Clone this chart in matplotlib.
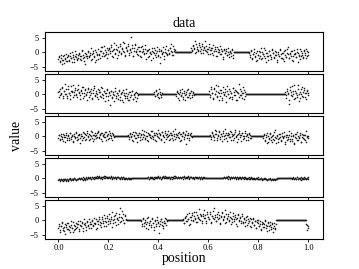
import numpy as np
import matplotlib.pyplot as plt

plt.rcParams['font.family'] = ['Liberation Serif', 'DejaVu Serif']

# two interleaved sample grids, half a step apart
position = np.round(np.arange(251) * 0.004, 3)
position_b = np.round(np.arange(250) * 0.004 + 0.002, 3)
zero = 0.0

# panel 1
p1_a = [-2.4, -1.1, -3.2, -1.8, -4.1, -2.6, -0.9, -2.2, -3.0, -1.5,
        -0.8, -2.9, -1.3, -2.0, 0.1, -1.7, -3.4, -1.2, -0.6, -2.3,
        -1.9, -0.3, -1.4, -2.8, 0.5, -1.0, -1.6, -4.0, -0.7, -1.3,
        0.2, -1.5, -0.9, 1.4, -2.2, -0.4, -1.1, 0.8, -2.6, -0.6,
        1.1, -0.7, -1.8, 0.4, 2.0, -0.2, -1.4, 0.9, -0.5, 1.6,
        -0.6, 1.3, 0.3, 2.5, -1.2, 0.7, 3.1, -0.1, 1.0, -1.9,
        1.8, 0.2, 2.7, -0.4, 1.2, 0.6, 3.3, -0.9, 1.5, 0.4,
        2.1, -0.3, 0.9, 5.4, 1.6, -1.1, 0.5, 2.4, 0.0, 1.3,
        -0.8, 1.7, 0.3, -1.5, 2.2, 0.6, -0.2, 1.0, -2.4, 0.4,
        0.9, -1.3, 0.2, -0.7, 1.6, -2.0, -0.1, 0.7, -1.6, 0.3,
        -0.9, 1.2, -3.6, 0.5, -0.4, 1.9, -1.1, 0.1, 2.3, -0.6,
        0.8, -0.5, 1.4, 2.9, 0.2, -0.8, 1.1]
p1_b = [1.5, 0.4, 2.6, 1.1, 3.8, 0.2, 1.9, 0.9, 2.4, 0.6,
        1.3, 3.0, -0.2, 1.7, 0.8, 2.2, 0.1, 1.0, 2.8, -0.5,
        0.7, 1.5, -0.8, 0.3, 1.9, 0.5, -1.4, 1.1, 0.0, 2.1,
        -0.6, 0.4, -2.3, 0.9, -0.3, 1.3, -1.0, 0.2, -1.7, 0.6,
        -0.4, 1.2, -0.9]
p1_c = [-0.3, -1.6, 0.8, -2.4, -0.7, 0.2, -1.2, -3.1, 0.5, -0.9,
        -1.8, 0.1, 1.4, -2.0, -0.5, -1.1, 0.9, -3.5, -0.2, -1.4,
        0.6, -0.8, -2.2, 1.2, -0.4, -1.7, 0.3, -1.0, -2.7, 0.0,
        -1.3, 1.0, -0.6, -2.1, -0.1, -3.0, 0.7, -1.5, -0.3, 1.7,
        -1.9, -0.7, 0.4, -2.5, -1.1, 0.9, -0.5, -1.6, 0.2, -3.3,
        -0.8, 1.1, -1.4, -0.2, -2.0, 0.5, -0.9, 1.3, -1.2, 0.1]
p1_a2 = [-1.7, -3.0, -0.8, -2.5, -1.4, -3.7, -2.1, -0.5, -2.9, -1.2,
         -2.6, -0.4, -1.9, -3.3, -1.0, -2.2, 0.4, -1.5, -2.7, -0.9,
         -0.6, -2.4, -1.1, 0.7, -1.8, -3.1, -0.2, -1.3, -2.0, 0.3,
         -1.4, -0.1, -2.8, -0.7, 0.6, -1.7, -3.4, 0.1, -1.0, -2.3,
         -0.9, 0.5, 1.7, -1.2, -0.4, 2.3, -0.8, 0.2, -2.1, 0.8,
         1.4, -0.3, 2.0, 0.5, -1.6, 1.1, -0.5, 2.6, 0.9, -0.9,
         0.3, 2.2, -0.6, 1.4, 3.6, 0.0, -1.3, 1.9, 0.7, 2.8,
         -0.8, 1.0, 0.2, 2.5, -1.4, 1.6, 3.0, 0.4, -0.5, 1.8,
         0.6, -1.1, 2.0, 0.1, 1.3, -0.7, 2.6, -0.2, 0.8, -1.6,
         1.2, -0.4, -2.5, 0.6, 0.0, 1.5, -0.9, -0.3, 2.0, -1.2,
         0.4, -1.7, 0.9, -0.6, 0.2, -2.2, 1.3, -0.1, -0.8, 0.7,
         -0.2, 1.6, 0.5, -1.0, 2.2, 0.3, 0.9]
p1_b2 = [0.8, 2.1, 1.4, -0.3, 2.9, 1.0, 0.5, 3.2, 1.7, -0.1,
         2.3, 0.7, 1.6, 4.0, 0.3, 1.2, -0.6, 2.0, 0.9, 1.4,
         -0.2, 2.4, 0.6, 1.0, -1.1, 1.7, 0.2, 0.8, -0.7, 1.3,
         0.5, -1.5, 1.0, -0.2, 0.4, -0.9, 1.6, -0.5, 0.1, -1.3,
         0.7, -2.0, 0.0]
p1_c2 = [-1.0, 0.3, -2.0, -0.6, 1.0, -1.5, -0.2, -2.8, -0.9, 0.6,
         -1.3, -2.3, 0.0, -0.7, 1.5, -1.9, -0.4, -1.1, -2.6, 0.4,
         -0.8, -1.6, 0.9, -0.3, -2.1, -1.0, 0.2, -3.2, -0.5, -1.2,
         0.8, -1.8, -0.1, -2.4, 0.5, -0.9, -1.5, 1.2, -0.6, -2.0,
         -0.2, -1.1, 0.6, -2.9, -0.7, -0.1, -1.7, 1.0, -0.4, -1.3,
         -2.2, 0.3, -0.8, -1.6, 0.7, -0.3, -1.9, 0.4, -1.0]

# panel 2
p2_a = [0.8, -0.9, 1.7, 0.2, 2.6, -0.5, 1.1, 3.4, 0.0, -1.3,
        1.9, 0.5, -0.4, 2.8, 1.2, -1.0, 0.7, 2.2, -0.2, 1.5,
        3.1, 0.3, -1.6, 1.0, 0.6, 2.4, -0.7, 1.4, 0.1, -1.9,
        2.0, 0.9, -0.3, 1.8, -1.2, 0.4, 2.7, -0.6, 1.3, 0.2,
        -1.5, 1.6, 0.7, -0.8, 2.1, -0.1, 1.0, -2.2, 0.5, 1.9,
        -0.5, 0.3, -3.6, 1.2, -0.9, 0.8, -0.2, 2.3, -1.4, 0.6,
        -0.4, 1.5, -1.8, 0.1, 0.9, -2.6, 0.4, -0.7, 1.7, -1.1,
        0.2, -2.0, 0.8, -0.3, 1.1, -1.5, -0.1, 0.6, -2.4, 0.3]
p2_b = [0.9, -0.7, 1.5, -0.2, 0.4, -1.3, 0.7, -0.4]
p2_c = [-0.6, 1.2, 0.3, -1.8, 0.8, -0.2, 1.9, -1.0, 0.5, -2.1,
        0.1, 1.4, -0.8, 0.6, -1.4, 1.0, -0.3, 0.7]
p2_d = [1.1, -0.8, 2.4, 0.3, -1.5, 1.8, 0.0, 3.2, -0.6, 0.9,
        -2.0, 1.4, 0.5, -1.1, 2.6, -0.3, 0.7, -2.5, 1.2, 0.2,
        1.9, -0.9, 0.4, -1.6, 2.1, 0.8, -0.4, 1.3, -1.9, 0.6,
        3.6, -0.2, 1.0, -1.2, 0.3, 1.6, -0.7]
p2_e = [0.9, -1.2, 2.0, 0.4, -3.4, 1.5, -0.3, 2.8, 0.1, -1.7,
        1.2, 0.6, -0.8, 3.1, 0.2, -1.4, 1.8, -0.5, 0.9, 2.3,
        -1.0, 0.5, 1.6, -0.2]
p2_a2 = [1.3, -0.2, 0.6, 2.2, -1.1, 1.0, 0.2, 1.8, -0.6, 2.9,
         0.4, -1.5, 1.2, 0.8, 3.3, -0.3, 1.6, 0.1, -0.9, 2.0,
         0.7, -0.4, 1.5, 2.6, -1.2, 0.3, 1.9, -0.1, 0.9, 2.3,
         -0.8, 1.1, 0.5, -1.7, 1.4, 2.1, -0.2, 0.6, -1.0, 1.7,
         0.9, -0.5, 2.4, 0.0, -1.3, 1.2, 0.4, -0.7, 1.6, -1.8,
         0.7, -0.1, 1.3, -1.1, 0.2, -2.3, 1.0, -0.5, 0.5, -1.5,
         1.1, -0.8, 0.3, -2.0, 1.4, -0.3, -1.2, 0.6, -0.6, -1.9,
         0.9, -1.0, -0.2, 1.3, -1.7, 0.1, -0.9, 0.8, -1.3, -0.4]
p2_b2 = [-0.5, 1.1, 0.2, -1.0, 1.8, 0.0, -0.8, 0.6]
p2_c2 = [0.9, -1.3, 0.2, 1.6, -0.5, 0.4, -1.7, 1.1, -0.1, 0.8,
         -1.0, 2.0, -0.4, 0.3, 1.3, -0.9, 0.5, -0.2]
p2_d2 = [-0.4, 1.7, 0.6, -1.3, 2.2, 0.1, 1.0, -0.9, 2.8, 0.4,
         -0.6, 1.5, -1.8, 0.8, 0.2, 1.9, -0.5, 3.0, 0.0, -1.4,
         1.1, 0.5, -0.8, 2.3, -0.2, 1.4, -2.1, 0.7, 0.3, -1.0,
         1.8, -0.3, 0.6, 2.5, -1.5, 0.9, 0.1]
p2_e2 = [-0.4, 1.3, 0.2, -1.9, 2.4, 0.7, -0.6, 1.0, 3.3, -1.1,
         0.5, -0.3, 1.9, -2.2, 0.8, 0.0, 2.6, -0.8, 1.4, 0.3,
         -1.5, 1.1, 0.4]

# panel 3
p3_a = [-0.5, 0.6, -1.4, 0.1, -0.9, 0.9, -0.2, -1.8, 0.4, -0.7,
        0.3, -1.1, 1.2, -0.4, 0.0, -1.5, 0.7, -0.6, 1.5, -0.1,
        -0.9, 0.5, -2.2, 0.8, 0.2, -0.5, 1.1, -1.2, 0.4, 1.8,
        -0.3, 0.9, -0.8, 0.1, 1.4, -1.6, 0.6, 0.2, -0.6, 1.0,
        2.0, -0.4, 0.7, -1.0, 1.3, 0.3, -0.2, 1.6, -1.3, 0.5,
        0.9, -0.7, 1.2, 0.0, -1.1, 0.8]
p3_b = [0.4, -1.0, 1.3, -0.3, 0.8, -1.7, 0.2, 1.6, -0.6, 0.5,
        -0.2, 1.1, -1.3, 0.7, 2.1, -0.4, 0.3, -0.9, 1.4, 0.0,
        -1.5, 0.9, 0.4, -0.7, 1.8, -0.1, 0.6, -1.2, 1.0, 0.2,
        2.3, -0.5, 0.8, -0.9, 1.5, 0.1, -2.0, 1.2, 0.5, -0.3,
        1.7, 0.3, -0.8, 1.1, 0.6, -1.4, 0.9, 2.5, -0.2, 0.4,
        1.3, -0.6, 0.7, -1.1, 0.2, 1.6, -0.4, 0.8, -2.6, 0.5,
        1.0, -0.7, 0.3, 1.2]
p3_c = [0.6, -0.9, 1.5, 0.2, -0.4, 2.2, 0.9, -1.2, 0.4, 1.7,
        -0.2, 0.8, -1.6, 1.2, 0.0, 2.6, -0.7, 0.5, 1.0, -0.3,
        1.9, -1.1, 0.7, 0.3, -0.6, 1.4, 0.1, -1.9, 0.9, 2.0,
        -0.4, 0.6, 1.3, -0.8, 0.2, 1.1, -1.4, 0.5, -0.1, 0.8,
        -0.5]
p3_d = [-0.6, 0.8, -1.5, 0.3, -2.4, 0.0, -0.9, 1.3, -0.3, -1.8,
        0.5, -1.1, 2.2, -0.5, 0.2, -2.0, -0.7, 0.9, -1.3, 0.1,
        -0.4, 1.6, -2.7, -0.2, 0.6, -1.0, 0.4, -1.6, 1.1, -0.8,
        0.0, -2.2, 0.7, -0.5, 1.4, -1.2, -0.1, 0.5, -1.9, 0.9,
        -0.6, 0.3, -1.4, 1.8, -0.3, 0.2]
p3_a2 = [0.3, -1.0, 0.8, -0.4, -1.6, 0.5, -0.1, 1.0, -1.2, 0.2,
         -0.6, 1.3, -0.9, 0.6, -2.0, 0.1, -0.3, 1.1, -1.4, 0.4,
         0.9, -0.7, 0.2, -1.1, 1.6, -0.2, 0.7, -0.8, 1.2, 0.0,
         -1.3, 0.5, 1.9, -0.5, 0.3, -1.0, 1.1, 0.6, -0.3, 1.5,
         -0.7, 0.4, 1.0, -1.5, 0.2, 0.8, -0.4, 1.4, 0.1, -0.9,
         1.7, 0.3, -0.6, 1.1, 0.5, -0.2]
p3_b2 = [-0.4, 0.9, 0.1, -1.2, 1.5, 0.3, -0.5, 1.0, -1.8, 0.6,
         1.2, -0.1, 0.4, -1.0, 0.8, 1.7, -0.6, 0.2, -1.4, 1.1,
         0.5, -0.3, 1.9, 0.0, -0.8, 1.3, 0.4, -1.6, 0.7, -0.2,
         1.0, 0.3, -1.1, 1.6, 0.6, -0.4, 2.0, -0.9, 0.8, 0.1,
         -1.3, 1.2, 0.4, -0.6, 1.8, 0.2, -1.0, 0.9, 0.5, -0.2,
         1.4, -1.5, 0.7, 0.0, 1.1, -0.8, 0.3, 1.9, -0.5, 0.6,
         -1.2, 0.9, 0.1, -0.3]
p3_c2 = [-0.3, 1.1, 0.4, -1.4, 0.9, 1.8, -0.6, 0.2, 1.4, -1.0,
         0.7, 0.0, 2.0, -0.8, 0.5, 1.2, -1.5, 0.3, 0.9, -0.4,
         1.6, 0.1, -1.1, 0.8, 2.3, -0.2, 0.6, -0.9, 1.0, 0.4,
         -1.7, 1.3, 0.2, -0.5, 1.7, 0.0, 0.7, -1.2, 1.1, 0.3,
         -0.7]
p3_d2 = [0.4, -1.2, -0.3, 1.0, -1.9, -0.6, 0.7, -1.4, 0.2, -0.9,
         1.5, -0.4, -2.2, 0.3, -1.0, 0.8, -0.2, -1.6, 1.2, -0.7,
         0.0, -2.0, 0.6, -1.1, -0.3, 1.9, -0.8, 0.1, -1.5, 0.5,
         -2.5, -0.4, 0.9, -1.3, 0.2, -0.6, 1.3, -1.8, -0.1, 0.6,
         -1.0, 0.4, -2.1, 0.0, -0.5]

# panel 4
p4_a = [-0.6, -0.2, -0.8, -0.3, -0.5, -0.1, -0.7, -0.4, -0.9, -0.2,
        -0.5, -0.3, 0.0, -0.6, -0.2, -0.4, 0.1, -0.3, -0.7, -0.1,
        -0.2, 0.2, -0.4, 0.0, -0.3, 0.3, -0.1, -0.5, 0.1, -0.2,
        0.4, 0.0, 0.2, -0.3, 0.5, 0.1, -0.1, 0.6, 0.2, 0.0,
        0.3, 0.7, 0.1, 0.4, -0.1, 0.5, 0.2, 0.9, 0.3, 0.0,
        0.4, 0.6, 0.1, 0.3, -0.2, 0.5, 0.2, 0.4, 0.0, 0.3,
        0.6, 0.1, -0.1, 0.3, 0.0, 0.4, -0.2, 0.2, 0.1, -0.3,
        0.2, 0.0, -0.2, 0.1]
p4_b = [0.1, 0.4, -0.2, 0.3, 0.0, 0.6, 0.2, -0.1, 0.5, 0.3,
        0.0, 0.7, 0.2, 0.4, -0.2, 0.3, 0.5, 0.1, 0.8, 0.2,
        0.0, 0.4, 0.6, 0.1, 0.3, -0.1, 0.5, 0.2, 0.7, 0.3,
        0.1, 0.4, 0.0, 0.6, 0.2, 0.3, -0.2, 0.5, 0.1, 0.4,
        0.2, 0.7, 0.0, 0.3, 0.5, 0.1, 0.2, -0.1, 0.4, 0.2,
        0.6, 0.0, 0.3, 0.1, 0.4, -0.2, 0.2, 0.3, 0.0]
p4_c = [0.2, 0.5, 0.0, 0.4, 0.1, 0.7, 0.3, -0.1, 0.5, 0.2,
        0.4, 0.0, 0.6, 0.1, 0.3, -0.2, 0.4, 0.2, 0.0, 0.5,
        0.1, -0.1, 0.3, 0.2, -0.3, 0.1, 0.4, -0.1, 0.0, 0.2,
        -0.2, 0.1, -0.4, 0.0, -0.1, 0.3, -0.3, -0.1, 0.0, -0.5,
        -0.2, 0.1, -0.4, -0.1, -0.6, -0.2, -0.3, 0.0, -0.5, -0.2,
        -0.7, -0.3, -0.1, -0.4]
p4_d = [-0.2, 0.3, -0.4, 0.1, -0.1, 0.4, -0.3, 0.0, 0.2, -0.5,
        0.1, -0.2, 0.3, 0.0, -0.3, 0.2, -0.1]
p4_a2 = [-0.3, -0.7, -0.1, -0.5, -0.9, -0.4, -0.2, -0.6, -0.3, -0.8,
         -0.1, -0.4, -0.6, -0.2, -0.5, 0.0, -0.3, -0.6, -0.1, -0.4,
         0.0, -0.3, 0.1, -0.2, -0.5, 0.2, -0.1, 0.3, -0.3, 0.0,
         0.1, 0.4, -0.1, 0.3, 0.0, 0.5, 0.2, 0.3, 0.7, 0.1,
         0.5, 0.2, 0.0, 0.6, 0.3, 0.8, 0.1, 0.4, 0.6, 0.2,
         0.5, 0.0, 0.7, 0.2, 0.4, 0.1, 0.6, -0.1, 0.3, 0.5,
         0.2, 0.0, 0.4, -0.2, 0.3, 0.1, -0.1, 0.2, -0.2, 0.1,
         -0.1, 0.2, -0.3, 0.0]
p4_b2 = [0.3, -0.1, 0.2, 0.5, 0.1, -0.2, 0.4, 0.2, 0.0, 0.6,
         0.3, 0.1, 0.5, -0.1, 0.2, 0.7, 0.3, 0.0, 0.4, 0.6,
         0.2, 0.3, -0.1, 0.5, 0.4, 0.2, 0.8, 0.1, 0.3, 0.0,
         0.5, 0.2, 0.6, 0.1, 0.4, 0.3, 0.7, 0.0, 0.2, 0.5,
         0.3, -0.1, 0.4, 0.6, 0.2, 0.4, 0.0, 0.3, 0.5, 0.1,
         0.2, 0.4, -0.1, 0.3, 0.1, 0.5, 0.0, 0.2, 0.1]
p4_c2 = [0.4, 0.1, 0.6, 0.3, -0.1, 0.5, 0.2, 0.4, 0.0, 0.6,
         0.2, 0.3, -0.1, 0.5, 0.1, 0.2, 0.4, -0.1, 0.3, 0.1,
         0.3, 0.0, -0.2, 0.2, 0.1, -0.1, 0.0, 0.3, -0.2, 0.1,
         -0.1, -0.3, 0.0, 0.2, -0.2, -0.4, -0.1, 0.1, -0.3, -0.2,
         -0.4, 0.0, -0.3, -0.5, -0.1, -0.4, -0.2, -0.6, -0.3, -0.1,
         -0.4, -0.5, -0.2, -0.3]
p4_d2 = [0.1, -0.3, 0.2, -0.1, 0.3, -0.4, 0.0, -0.2, 0.4, -0.1,
         0.1, -0.3, 0.2, -0.2, 0.0, 0.3]

# panel 5
p5_a = [-2.8, -1.2, -3.9, -2.0, -0.6, -3.3, -2.4, -4.6, -1.5, -2.9,
        -1.0, -3.5, -2.2, -0.4, -2.7, -4.2, -1.7, -3.0, -0.9, -2.3,
        -1.4, -3.6, -0.2, -2.0, -1.1, -2.8, 0.3, -1.6, -3.2, -0.7,
        -1.9, 0.5, -1.2, -2.5, -0.3, -1.5, 0.9, -0.8, -3.0, -0.1,
        -1.3, 1.2, -0.6, -2.2, 0.4, -1.0, 1.7, -0.4, -1.8, 0.8,
        -0.2, 2.0, -1.1, 0.6, -2.4, 0.1, 1.4, -0.7, 2.5, 0.3,
        -1.4, 1.0, 4.2, -0.3, 0.7, 2.2, -0.9, 1.5]
p5_b = [-0.3, -1.9, 0.8, -1.1, 0.2, -2.6, -0.6, 1.2, -1.5, -0.1,
        -2.2, 0.5, -0.9, -3.4, 0.1, -1.3, 1.0, -0.7, -2.0, -0.4,
        0.6, -1.6, -2.8, -0.2, -1.0, 0.3]
p5_c = [0.4, -1.0, 1.3, -0.3, 2.1, 0.6, -1.6, 1.0, 0.2, 2.5,
        -0.4, 1.6, 0.8, 3.0, -0.7, 1.2, 0.4, 2.3, 1.9, -0.2,
        1.4, 3.4, 0.7, -0.9, 2.0, 1.1, 0.3, 2.8, -0.5, 1.6,
        0.9, 4.1, 1.3, -0.1, 2.2, 0.5, 1.8, -1.2, 1.0, 2.6,
        0.2, 1.5, 3.6, -0.6, 0.8, 2.0, 0.1, 1.3, -1.4, 0.6,
        2.4, -0.3, 1.1, 0.4, -1.8, 1.7, 0.0, 0.9, -0.8, 2.1,
        -0.5, 0.6, -1.9, 0.2, 1.4, -1.1, -0.2, 0.8, -2.4, -0.6,
        0.5, -1.5, -0.3, -2.8, 0.1, -1.0, -2.0, -0.4, -3.3, -1.2,
        -0.8, -2.3, 0.0, -1.7, -3.8, -1.0, -2.1, -0.5, -2.9, -1.4,
        -2.5, -1.1, -3.0]
p5_d = [-1.2, -3.5, -2.1]
p5_a2 = [-1.9, -3.4, -2.1, -1.0, -2.6, -3.8, -1.3, -2.4, -0.8, -3.1,
         -2.0, -4.1, -1.6, -2.5, -0.7, -3.3, -1.8, -2.6, -1.2, -0.3,
         -2.9, -1.5, -2.1, -0.5, -3.7, -1.2, -0.9, -2.3, -0.1, -1.7,
         -2.6, -0.6, -1.4, 0.2, -2.0, -0.8, -1.3, 0.6, -2.7, -0.4,
         0.3, -1.6, -0.9, 1.0, -0.2, -2.0, 0.9, -0.6, 1.5, -1.3,
         0.5, -0.4, 1.3, 2.9, -0.8, 0.4, 1.8, -1.6, 0.9, 0.0,
         2.1, -0.5, 1.3, 3.1, 0.2, -0.9, 1.7, 0.6]
p5_b2 = [-1.2, 0.4, -2.0, -0.5, -1.4, 0.9, -2.9, -0.8, -0.2, -1.7,
         0.7, -1.1, -2.4, -0.3, -1.8, 0.2, -0.9, -4.5, -1.3, 0.5,
         -0.6, -2.1, -1.0, 0.8, -1.5, -0.4]
p5_c2 = [-0.8, 0.9, 1.6, -0.2, 0.5, 2.4, -1.2, 1.1, 1.8, 0.0,
         2.7, 0.6, -0.6, 1.9, 0.9, 3.8, 0.2, 1.4, -1.0, 2.2,
         0.8, 1.7, -0.3, 2.9, 1.2, 0.3, 2.0, -1.1, 1.5, 3.2,
         0.5, 1.9, -0.4, 1.1, 2.7, 0.7, -0.8, 1.6, 3.0, 0.3,
         1.2, -0.9, 2.2, 0.4, 1.6, -0.2, 2.8, 0.9, -0.7, 1.4,
         0.3, 1.9, -1.3, 0.8, 2.3, -0.4, 1.2, -0.1, 1.6, -1.1,
         0.7, -0.6, 1.1, -1.5, 0.3, -0.3, -2.0, 0.5, -0.9, 0.9,
         -1.7, -0.1, -2.5, -0.7, 0.2, -1.9, -1.2, -3.0, -0.5, -2.2,
         -1.4, -0.2, -2.6, -1.8, -0.6, -3.4, -1.5, -2.4, -0.9, -4.0,
         -1.9, -2.7, -1.3]
p5_d2 = [-1.7, -2.8]

# flat stretches sit exactly on zero
panel_1 = p1_a + [zero] * 16 + p1_b + [zero] * 15 + p1_c
panel_2 = (p2_a + [zero] * 16 + p2_b + [zero] * 14 + p2_c + [zero] * 15
           + p2_d + [zero] * 39 + p2_e)
panel_3 = p3_a + [zero] * 14 + p3_b + [zero] * 18 + p3_c + [zero] * 12 + p3_d
panel_4 = p4_a + [zero] * 15 + p4_b + [zero] * 17 + p4_c + [zero] * 15 + p4_d
panel_5 = p5_a + [zero] * 15 + p5_b + [zero] * 16 + p5_c + [zero] * 30 + p5_d

panel_1b = p1_a2 + [zero] * 16 + p1_b2 + [zero] * 15 + p1_c2
panel_2b = (p2_a2 + [zero] * 16 + p2_b2 + [zero] * 14 + p2_c2 + [zero] * 15
            + p2_d2 + [zero] * 39 + p2_e2)
panel_3b = p3_a2 + [zero] * 14 + p3_b2 + [zero] * 18 + p3_c2 + [zero] * 12 + p3_d2
panel_4b = p4_a2 + [zero] * 15 + p4_b2 + [zero] * 17 + p4_c2 + [zero] * 15 + p4_d2
panel_5b = p5_a2 + [zero] * 15 + p5_b2 + [zero] * 16 + p5_c2 + [zero] * 30 + p5_d2

panels = [(panel_1, panel_1b), (panel_2, panel_2b), (panel_3, panel_3b),
          (panel_4, panel_4b), (panel_5, panel_5b)]

fig, axes = plt.subplots(5, 1, figsize=(3.59, 2.69), dpi=100, sharex=True, sharey=True)
fig.subplots_adjust(left=0.124, right=0.9, top=0.881, bottom=0.112, hspace=0.08)

for ax, (vals, vals_b) in zip(axes, panels):
    ax.scatter(position, vals, s=1.3, c='0.1', linewidths=0, marker='o')
    ax.scatter(position_b, vals_b, s=1.3, c='0.1', linewidths=0, marker='o')
    ax.set_xlim(-0.056, 1.06)
    ax.set_ylim(-6.4, 7.0)
    ax.set_yticks([-5, 0, 5])
    ax.set_xticks([0.0, 0.2, 0.4, 0.6, 0.8, 1.0])
    ax.tick_params(labelsize=6, length=2.5, width=0.6, pad=1.5, direction='out')
    for sp in ax.spines.values():
        sp.set_linewidth(0.8)

axes[-1].set_xticklabels(['0.0', '0.2', '0.4', '0.6', '0.8', '1.0'])
axes[0].set_title('data', fontsize=10, pad=3.5)
axes[-1].set_xlabel('position', fontsize=10, labelpad=0)
fig.text(0.045, 0.496, 'value', rotation=90, fontsize=10, va='center', ha='center')

fig.savefig('out.png', dpi=100)
